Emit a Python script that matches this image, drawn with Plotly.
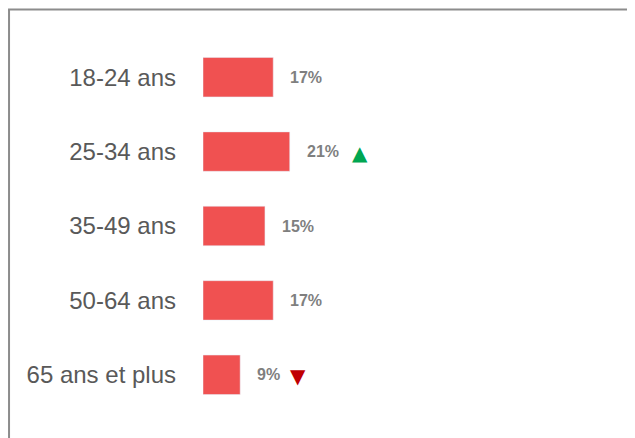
import plotly.graph_objects as go

categories = ["18-24 ans", "25-34 ans", "35-49 ans", "50-64 ans", "65 ans et plus"]
values = [17, 21, 15, 17, 9]
value_labels = ["17%", "21%", "15%", "17%", "9%"]
trends = ["", "up", "", "", "down"]

bar_color = "#F05151"
trend_style = {"up": ("▲", "#00A651"), "down": ("▼", "#C00000")}

fig = go.Figure()
fig.add_bar(x=values, y=categories, orientation="h", marker_color=bar_color,
            width=0.53, hoverinfo="skip")

for cat, v, lab, tr in zip(categories, values, value_labels, trends):
    fig.add_annotation(x=v, y=cat, text="<b>" + lab + "</b>", showarrow=False,
                       xanchor="left", xshift=15,
                       font=dict(family="Liberation Sans, Arial", size=16, color="#7F7F7F"))
    if tr:
        sym, col = trend_style[tr]
        fig.add_annotation(x=v, y=cat, text=sym, showarrow=False,
                           xanchor="center", xshift=len(lab) * 12.5 + 32.5, yshift=-1,
                           font=dict(family="DejaVu Sans", size=20, color=col))

# frame around the chart
fig.add_shape(type="rect", xref="paper", yref="paper",
              x0=-0.449, x1=1.1, y0=-0.2, y1=1.082,
              line=dict(color="#8C8C8C", width=2), layer="above")

fig.update_layout(
    width=627, height=430,
    margin=dict(l=195, r=0, t=32, b=26),
    plot_bgcolor="white", paper_bgcolor="white",
    showlegend=False,
    xaxis=dict(range=[0, 104.6], visible=False, fixedrange=True),
    yaxis=dict(autorange="reversed", showgrid=False, zeroline=False, showline=False,
               ticks="", ticklabelstandoff=26,
               tickfont=dict(family="Liberation Sans, Arial", size=24, color="#595959")),
)

fig.write_html("out.html")
